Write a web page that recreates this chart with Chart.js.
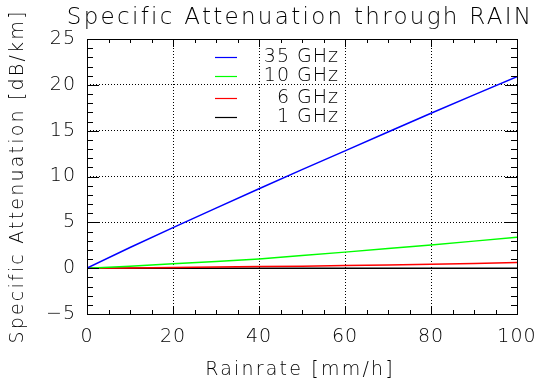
<!DOCTYPE html>
<html>
<head>
<meta charset="utf-8">
<title>Specific Attenuation through RAIN</title>
<script src="https://cdn.jsdelivr.net/npm/chart.js@4.4.1/dist/chart.umd.min.js"></script>
<style>
  html, body { margin: 0; padding: 0; background: #fff; }
  canvas { display: block; }
</style>
</head>
<body>
<canvas id="attChart" width="536" height="388"></canvas>
<script>
// rain rate in mm/h
const rainRate = [0, 10, 20, 30, 40, 50, 60, 70, 80, 90, 100];
// specific attenuation in dB/km
const att35GHz = [0, 2.25, 4.43, 6.55, 8.66, 10.75, 12.8, 14.85, 16.9, 18.9, 20.9];
const att10GHz = [0, 0.2, 0.47, 0.73, 1.01, 1.37, 1.75, 2.14, 2.54, 2.95, 3.38];
const att6GHz = [0, 0.03, 0.08, 0.12, 0.17, 0.22, 0.28, 0.35, 0.43, 0.52, 0.61];
const att1GHz = [0, 0, 0, 0, 0, 0, 0, 0, 0, 0, 0];

const seriesLabels = ['35 GHz', '10 GHz', '6 GHz', '1 GHz'];
const seriesColors = ['#0000ff', '#00ff00', '#ff0000', '#000000'];

const xTicks = [0, 20, 40, 60, 80, 100];
const yTicks = [-5, 0, 5, 10, 15, 20, 25];
const xMinorStep = 5;
const yMinorStep = 1;

const chartTitle = 'Specific Attenuation through RAIN';
const xTitle = 'Rainrate [mm/h]';
const yTitle = 'Specific Attenuation [dB/km]';

const FONT = 'DejaVu Sans';
const WEIGHT = '200';
const TEXT = '#000';

function pairs(ys) {
  return rainRate.map((r, i) => ({ x: r, y: ys[i] }));
}

// IDL style box: solid frame with inward major / minor ticks, plus titles
const frameTicks = {
  id: 'frameTicks',
  beforeDraw(chart) {
    chart.ctx.letterSpacing = '1px';
  },
  afterDraw(chart) {
    const { ctx, chartArea: a, scales: { x, y } } = chart;
    ctx.save();
    ctx.strokeStyle = '#000';
    ctx.lineWidth = 1;
    ctx.setLineDash([]);
    ctx.strokeRect(Math.round(a.left) + 0.5, Math.round(a.top) + 0.5,
      Math.round(a.right - a.left), Math.round(a.bottom - a.top));
    ctx.beginPath();
    for (let v = x.min; v <= x.max; v += xMinorStep) {
      const px = Math.round(x.getPixelForValue(v)) + 0.5;
      const len = xTicks.includes(v) ? 8 : 4;
      ctx.moveTo(px, a.bottom); ctx.lineTo(px, a.bottom - len);
      ctx.moveTo(px, a.top); ctx.lineTo(px, a.top + len);
    }
    for (let v = y.min; v <= y.max; v += yMinorStep) {
      const py = Math.round(y.getPixelForValue(v)) + 0.5;
      const len = yTicks.includes(v) ? 12 : 6;
      ctx.moveTo(a.left, py); ctx.lineTo(a.left + len, py);
      ctx.moveTo(a.right, py); ctx.lineTo(a.right - len, py);
    }
    ctx.stroke();

    const cx = (a.left + a.right) / 2;
    const cy = (a.top + a.bottom) / 2;
    ctx.fillStyle = TEXT;
    ctx.textAlign = 'center';
    ctx.textBaseline = 'middle';
    ctx.font = WEIGHT + ' 23px "' + FONT + '"';
    ctx.letterSpacing = '2.3px';
    ctx.fillText(chartTitle, cx - 2, 18);
    ctx.font = WEIGHT + ' 19px "' + FONT + '"';
    ctx.letterSpacing = '2.2px';
    ctx.fillText(xTitle, cx - 2, 370);
    ctx.translate(18, cy);
    ctx.rotate(-Math.PI / 2);
    ctx.fillText(yTitle, 0, 0);
    ctx.restore();
  }
};

// legend inside the plot, lines on the left, labels right aligned
const inLegend = {
  id: 'inLegend',
  afterDatasetsDraw(chart) {
    const { ctx } = chart;
    const rows = [57, 76, 98, 117];
    ctx.save();
    ctx.font = WEIGHT + ' 19px "' + FONT + '"';
    ctx.letterSpacing = '1px';
    ctx.textAlign = 'right';
    ctx.textBaseline = 'middle';
    chart.data.datasets.forEach((ds, i) => {
      ctx.strokeStyle = ds.borderColor;
      ctx.lineWidth = 1.2;
      ctx.beginPath();
      ctx.moveTo(215, rows[i] + 0.5);
      ctx.lineTo(237, rows[i] + 0.5);
      ctx.stroke();
      ctx.fillStyle = TEXT;
      ctx.fillText(ds.label, 339, rows[i]);
    });
    ctx.restore();
  }
};

new Chart(document.getElementById('attChart').getContext('2d'), {
  type: 'line',
  data: {
    datasets: [
      { label: seriesLabels[0], data: pairs(att35GHz), borderColor: seriesColors[0] },
      { label: seriesLabels[1], data: pairs(att10GHz), borderColor: seriesColors[1] },
      { label: seriesLabels[2], data: pairs(att6GHz), borderColor: seriesColors[2] },
      { label: seriesLabels[3], data: pairs(att1GHz), borderColor: seriesColors[3] }
    ]
  },
  options: {
    responsive: false,
    animation: false,
    layout: { padding: { top: 39, right: 0, left: 0, bottom: 0 } },
    elements: {
      point: { radius: 0 },
      line: { borderWidth: 1.5, tension: 0, fill: false }
    },
    plugins: {
      legend: { display: false },
      tooltip: { enabled: false },
      title: { display: false }
    },
    scales: {
      x: {
        type: 'linear',
        min: 0,
        max: 100,
        afterBuildTicks(scale) { scale.ticks = xTicks.map(v => ({ value: v })); },
        afterFit(scale) {
          scale.height = 74;
          scale.paddingLeft = 0;
          scale.paddingRight = 19;
        },
        ticks: {
          color: TEXT,
          padding: 12,
          maxRotation: 0,
          font: { family: FONT, size: 19, weight: WEIGHT }
        },
        grid: { color: '#000', lineWidth: 1, drawTicks: false },
        border: { display: false, dash: [1, 2] }
      },
      y: {
        type: 'linear',
        min: -5,
        max: 25,
        afterBuildTicks(scale) { scale.ticks = yTicks.map(v => ({ value: v })); },
        afterFit(scale) { scale.width = 87; },
        ticks: {
          color: TEXT,
          padding: 11,
          font: { family: FONT, size: 19, weight: WEIGHT },
          callback: v => (v < 0 ? '\u2212' + Math.abs(v) : String(v))
        },
        grid: { color: '#000', lineWidth: 1, drawTicks: false },
        border: { display: false, dash: [1, 2] }
      }
    }
  },
  plugins: [frameTicks, inLegend]
});
</script>
</body>
</html>
